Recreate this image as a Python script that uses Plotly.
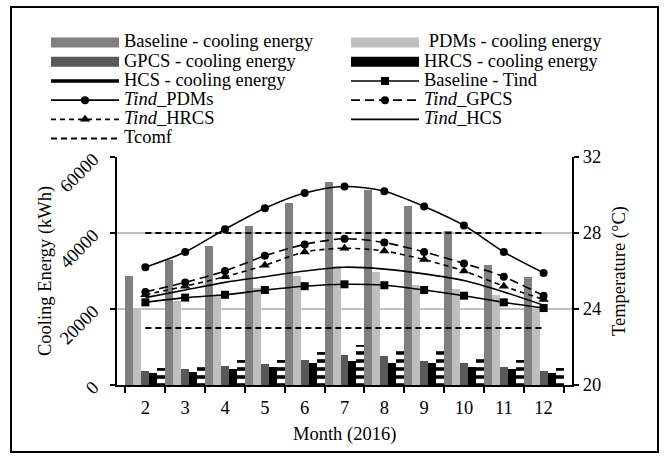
import plotly.graph_objects as go

# ---------------- data ----------------
months = ["2", "3", "4", "5", "6", "7", "8", "9", "10", "11", "12"]

baseline_energy = [28700, 32900, 36500, 41900, 48000, 53400, 51200, 47000, 40400, 31600, 28500]
pdms_energy     = [20000, 22000, 23600, 25600, 28700, 31400, 29800, 26400, 25200, 23600, 20300]
gpcs_energy     = [3800, 4200, 4900, 5600, 6600, 8000, 7700, 6400, 5700, 4800, 3800]
hrcs_energy     = [3100, 3500, 4200, 4700, 5800, 6200, 5900, 5700, 4800, 4200, 3100]
hcs_energy      = [4400, 5900, 6600, 6600, 8800, 10600, 10100, 9000, 7900, 6600, 4600]

baseline_tind = [24.35, 24.6, 24.75, 25.0, 25.2, 25.3, 25.25, 25.0, 24.7, 24.35, 24.05]
tind_pdms     = [26.2, 27.0, 28.2, 29.3, 30.1, 30.45, 30.2, 29.4, 28.4, 27.0, 25.9]
tind_gpcs     = [24.9, 25.4, 26.0, 26.8, 27.4, 27.7, 27.5, 27.0, 26.4, 25.7, 24.7]
tind_hrcs     = [24.75, 25.2, 25.7, 26.3, 27.0, 27.2, 27.05, 26.6, 26.0, 25.2, 24.5]
tind_hcs      = [24.6, 25.0, 25.4, 25.7, 26.0, 26.2, 26.1, 25.85, 25.5, 24.9, 24.2]
tcomf_upper   = [28, 28, 28, 28, 28, 28, 28, 28, 28, 28, 28]
tcomf_lower   = [23, 23, 23, 23, 23, 23, 23, 23, 23, 23, 23]

# ---------------- style ----------------
FONT = "Liberation Serif"
FS = 18.5
C_BASE = "#808080"
C_PDMS = "#bfbfbf"
C_GPCS = "#595959"
C_HRCS = "#000000"


def lab(txt):
    return f'<span style="font-size:{FS}px">{txt}</span>'


fig = go.Figure()

# bars (left axis)
for vals, col in [(baseline_energy, C_BASE), (pdms_energy, C_PDMS),
                  (gpcs_energy, C_GPCS), (hrcs_energy, C_HRCS)]:
    fig.add_trace(go.Bar(x=months, y=vals, marker=dict(color=col, line_width=0),
                         showlegend=False, yaxis="y", hoverinfo="skip"))
fig.add_trace(go.Bar(x=months, y=hcs_energy,
                     marker=dict(color="white", line_width=0,
                                 pattern=dict(shape="-", fgcolor="black", bgcolor="white",
                                              fgopacity=1, size=8, solidity=0.45,
                                              fillmode="replace")),
                     showlegend=False, yaxis="y", hoverinfo="skip"))

# temperature lines (right axis)
line_common = dict(shape="spline", smoothing=0.8, color="black")
fig.add_trace(go.Scatter(x=months, y=tcomf_upper, yaxis="y2", mode="lines",
                         line=dict(color="black", width=2, dash="6px,4px"), showlegend=False))
fig.add_trace(go.Scatter(x=months, y=tcomf_lower, yaxis="y2", mode="lines",
                         line=dict(color="black", width=2, dash="6px,4px"), showlegend=False))
fig.add_trace(go.Scatter(x=months, y=tind_hcs, yaxis="y2", mode="lines",
                         line=dict(width=1.6, **line_common), showlegend=False))
fig.add_trace(go.Scatter(x=months, y=baseline_tind, yaxis="y2", mode="lines+markers",
                         line=dict(width=1.6, **line_common),
                         marker=dict(symbol="square", size=8, color="black"), showlegend=False))
fig.add_trace(go.Scatter(x=months, y=tind_hrcs, yaxis="y2", mode="lines+markers",
                         line=dict(width=1.6, dash="5px,4px", **line_common),
                         marker=dict(symbol="triangle-up", size=9, color="black"), showlegend=False))
fig.add_trace(go.Scatter(x=months, y=tind_gpcs, yaxis="y2", mode="lines+markers",
                         line=dict(width=1.6, dash="9px,5px", **line_common),
                         marker=dict(symbol="circle", size=8, color="black"), showlegend=False))
fig.add_trace(go.Scatter(x=months, y=tind_pdms, yaxis="y2", mode="lines+markers",
                         line=dict(width=1.6, **line_common),
                         marker=dict(symbol="circle", size=8, color="black"), showlegend=False))


# legend-only entries (ordering for the two legend columns)
def legend_entry(name, legend, color, width, dash="solid", marker=None, mode="lines"):
    kw = dict(x=[None], y=[None], yaxis="y2", mode=mode, name=lab(name), legend=legend,
              line=dict(color=color, width=width, dash=dash), hoverinfo="skip")
    if marker:
        kw["marker"] = marker
    return go.Scatter(**kw)


left_entries = [
    legend_entry("Baseline - cooling energy", "legend", C_BASE, 10),
    legend_entry("GPCS - cooling energy", "legend", C_GPCS, 10),
    legend_entry("HCS - cooling energy", "legend", "black", 3.5),
    legend_entry("<i>Tind</i>_PDMs", "legend", "black", 1.6,
                 marker=dict(symbol="circle", size=8, color="black"), mode="lines+markers"),
    legend_entry("<i>Tind</i>_HRCS", "legend", "black", 1.6, dash="5px,4px",
                 marker=dict(symbol="triangle-up", size=9, color="black"), mode="lines+markers"),
    legend_entry("Tcomf", "legend", "black", 2, dash="6px,4px"),
]
right_entries = [
    legend_entry(" PDMs - cooling energy", "legend2", C_PDMS, 10),
    legend_entry("HRCS - cooling energy", "legend2", C_HRCS, 10),
    legend_entry("Baseline - Tind", "legend2", "black", 1.6,
                 marker=dict(symbol="square", size=8, color="black"), mode="lines+markers"),
    legend_entry("<i>Tind</i>_GPCS", "legend2", "black", 1.6, dash="9px,5px",
                 marker=dict(symbol="circle", size=8, color="black"), mode="lines+markers"),
    legend_entry("<i>Tind</i>_HCS", "legend2", "black", 1.6),
]
for e in left_entries + right_entries:
    fig.add_trace(e)

W, H = 670, 468
L, R, T, B = 117, 98, 157, 83
PW, PH = W - L - R, H - T - B

leg_common = dict(xref="container", yref="container", xanchor="left", yanchor="top",
                  orientation="v", bgcolor="rgba(0,0,0,0)", borderwidth=0,
                  font=dict(family=FONT, size=12.45, color="black"),
                  itemwidth=68, tracegroupgap=0, traceorder="normal", itemclick=False)

title_font = dict(family=FONT, size=FS, color="black")

fig.update_layout(
    width=W, height=H,
    margin=dict(l=L, r=R, t=T, b=B, autoexpand=False),
    paper_bgcolor="white", plot_bgcolor="white",
    font=dict(family=FONT, size=FS, color="black"),
    barmode="group", bargap=0, bargroupgap=0,
    legend=dict(x=46 / W, y=1 - 28 / H, **leg_common),
    legend2=dict(x=346 / W, y=1 - 28 / H, **leg_common),
    xaxis=dict(type="category", tickson="boundaries", ticks="outside", ticklen=6,
               tickwidth=2, tickcolor="black", showline=True, linecolor="black",
               linewidth=2, showgrid=False, tickfont=dict(size=FS), ticklabelstandoff=5),
    yaxis=dict(range=[0, 60000], dtick=20000, ticks="outside", ticklen=5, tickwidth=2,
               tickcolor="black", showline=True, linecolor="black", linewidth=2,
               showgrid=True, gridcolor="#bfbfbf", gridwidth=2, zeroline=False,
               tickangle=-45, tickformat="d", tickfont=dict(size=FS), ticklabelstandoff=13),
    yaxis2=dict(range=[20, 32], dtick=4, overlaying="y", side="right", ticks="outside",
                ticklen=5, tickwidth=2, tickcolor="black", showline=True, linecolor="black",
                linewidth=2, showgrid=False, zeroline=False, tickfont=dict(size=FS)),
    annotations=[
        dict(text="Month (2016)", xref="paper", yref="paper", x=0.5, y=-(434 - (H - B)) / PH,
             showarrow=False, font=title_font, xanchor="center", yanchor="middle"),
        dict(text="Cooling Energy (kWh)", xref="paper", yref="paper", x=(45 - L) / PW, y=0.5,
             textangle=-90, showarrow=False, font=title_font, xanchor="center", yanchor="middle"),
        dict(text="Temperature (°C)", xref="paper", yref="paper", x=(619 - L) / PW, y=0.5,
             textangle=-90, showarrow=False, font=title_font, xanchor="center", yanchor="middle"),
    ],
    shapes=[dict(type="rect", xref="paper", yref="paper",
                 x0=(11 - L) / PW, x1=(658 - L) / PW,
                 y0=-(452 - (H - B)) / PH, y1=(H - B - 7) / PH,
                 line=dict(color="black", width=2), fillcolor="rgba(0,0,0,0)", layer="below")],
)

fig.write_html("out.html")
